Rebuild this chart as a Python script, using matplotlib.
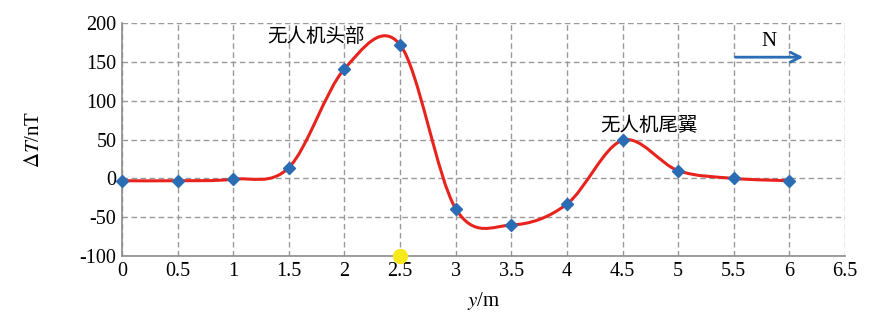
import matplotlib
matplotlib.use('Agg')
import matplotlib.pyplot as plt
from matplotlib.path import Path
import matplotlib.patches as patches
import numpy as np

plt.rcParams['font.family'] = ['Liberation Serif', 'Noto Sans CJK SC', 'DejaVu Sans']
plt.rcParams['mathtext.fontset'] = 'stix'

# 数据
y_pos = [0, 0.5, 1, 1.5, 2, 2.5, 3, 3.5, 4, 4.5, 5, 5.5, 6]
delta_t = [-3, -3, -1, 14, 141, 172, -39, -60, -33, 49, 10, 0, -3]
x_ticks = [0, 0.5, 1, 1.5, 2, 2.5, 3, 3.5, 4, 4.5, 5, 5.5, 6, 6.5]
x_tick_labels = ['0', '0.5', '1', '1.5', '2', '2.5', '3', '3.5', '4', '4.5', '5', '5.5', '6', '6.5']
y_ticks = [-100, -50, 0, 50, 100, 150, 200]
y_tick_labels = ['-100', '-50', '0', '50', '100', '150', '200']

fig = plt.figure(figsize=(8.78, 3.15), dpi=100)
ax = fig.add_axes([0.139, 0.187, 0.8234, 0.740])

ax.set_xlim(0, 6.5)
ax.set_ylim(-100, 200)
ax.set_xticks(x_ticks)
ax.set_xticklabels(x_tick_labels)
ax.set_yticks(y_ticks)
ax.set_yticklabels(y_tick_labels)
ax.tick_params(length=0, labelsize=14.5, pad=4)
ax.grid(True, color='#999999', linestyle=(0, (4, 2.5)), linewidth=1.0)
ax.set_axisbelow(True)
for s in ['top', 'right']:
    ax.spines[s].set_visible(False)
for s in ['left', 'bottom']:
    ax.spines[s].set_color('#8c8c8c')
    ax.spines[s].set_linewidth(1.2)

# 平滑曲线（类似 Excel 的平滑线：Catmull-Rom -> 三次贝塞尔）
xs = np.array(y_pos, dtype=float)
ys = np.array(delta_t, dtype=float)
verts = [(xs[0], ys[0])]
codes = [Path.MOVETO]
n = len(xs)
for i in range(n - 1):
    p0 = np.array([xs[max(i - 1, 0)], ys[max(i - 1, 0)]])
    p1 = np.array([xs[i], ys[i]])
    p2 = np.array([xs[i + 1], ys[i + 1]])
    p3 = np.array([xs[min(i + 2, n - 1)], ys[min(i + 2, n - 1)]])
    c1 = p1 + (p2 - p0) / 6.0
    c2 = p2 - (p3 - p1) / 6.0
    verts += [tuple(c1), tuple(c2), tuple(p2)]
    codes += [Path.CURVE4, Path.CURVE4, Path.CURVE4]
curve = patches.PathPatch(Path(verts, codes), facecolor='none',
                          edgecolor='#e8231d', linewidth=2.2, zorder=3)
ax.add_patch(curve)

ax.plot(y_pos, delta_t, linestyle='none', marker='D', markersize=6.5,
        color='#2a6db5', zorder=4, clip_on=False)

# 黄色点
ax.plot([2.5], [-100], 'o', color='#f7e81a', markersize=10, zorder=5, clip_on=False)

# 标注
ax.text(1.745, 183, '无人机头部', fontsize=14, ha='center', va='center',
        family=['Noto Sans CJK SC', 'DejaVu Sans'])
ax.text(4.74, 68, '无人机尾翼', fontsize=14, ha='center', va='center',
        family=['Noto Sans CJK SC', 'DejaVu Sans'])

# 方向箭头 N
ax.annotate('', xy=(6.15, 156), xytext=(5.49, 156),
            arrowprops=dict(arrowstyle='->', color='#2a6db5', lw=2,
                            mutation_scale=18))
ax.text(5.82, 176, 'N', fontsize=15, ha='center', va='center')

ax.set_xlabel(r'$y$/m', fontsize=15, labelpad=7)
ax.set_ylabel(r'$\Delta T$/nT', fontsize=15, labelpad=26)

fig.savefig('out.png', dpi=100, facecolor='white')
